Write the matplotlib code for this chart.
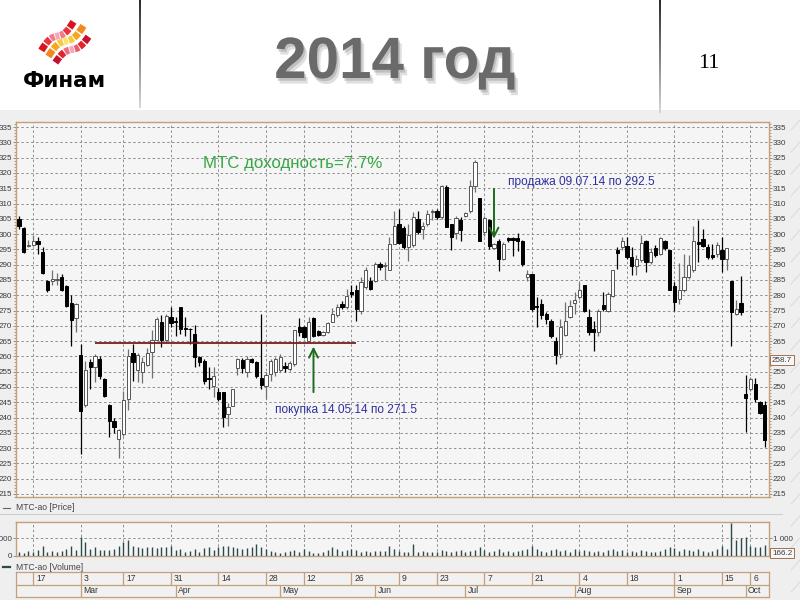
import matplotlib
matplotlib.use("Agg")
import matplotlib.pyplot as plt
import numpy as np
import matplotlib.patheffects as pe
from matplotlib.patches import Rectangle
from matplotlib.collections import LineCollection
from matplotlib.ticker import MultipleLocator

plt.rcParams['font.family'] = ['Liberation Sans', 'DejaVu Sans']

# ---------------- data (MTS daily candles, Feb-Oct 2014) ----------------
opens = [305, 302, 296, 296.3, 297.8, 294.2, 284.8, 284.6, 284.9, 285.9,
         282.9, 277.5, 272.5, 260.5, 244, 258.1, 256.5, 259, 252.6, 244.1,
         239, 233, 234.6, 246, 261.2, 255.4, 255, 257.2, 261.4, 265.5,
         271.2, 265.2, 273, 271.5, 276, 269.3, 269.1, 267.4, 259.7, 258.6,
         253, 250.2, 248.3, 248.3, 241.3, 243.8, 256.1, 258.9, 255, 259,
         258.3, 252.9, 250.2, 254.3, 254.8, 255.4, 257, 255.9, 257.6, 269.5,
         269.5, 264.9, 272.5, 268.2, 267, 268.1, 271.4, 273.4, 277.2, 276.1,
         281, 281.6, 275, 282.7, 284.6, 284.6, 290.1, 289.4, 288.3, 296.8,
         303.4, 302, 295.7, 296.3, 305, 301.7, 303.4, 307.2, 307.7, 305.6,
         315.4, 303.2, 300.3, 304.7, 305.8, 307.7, 315.6, 311.9, 300.6, 304.7,
         295.5, 297.7, 291.9, 298.7, 298.8, 298.8, 297.9, 285.9, 287, 276.6,
         277.2, 273.9, 271.7, 264.9, 260.8, 267, 272.8, 277.4, 279.4, 283.5,
         272.8, 269, 268.1, 276.7, 275, 279.9, 294.7, 295.7, 296, 292.5,
         289.7, 291.6, 297.9, 290.8, 295.5, 293.4, 297.7, 294.7, 282.9, 278.8,
         281.6, 286, 288.1, 297.4, 298.5, 295.7, 293, 293.4, 294.9, 291.9,
         284.8, 273.9, 277.5, 247.7, 249.2, 251, 245, 244.1]
highs = [305.8, 302.3, 298.2, 299.8, 299, 295.7, 285, 288.3, 287.3, 287,
         283.3, 280, 277.5, 264, 258.6, 259.2, 260.8, 260, 253, 244.3,
         240, 236.2, 248.8, 262.5, 264.2, 261.2, 259.7, 262.7, 268.5, 272.8,
         273.4, 273.9, 276, 272.8, 276.1, 272.8, 269.4, 270.1, 260.2, 259.1,
         256.5, 256.5, 249.6, 248.3, 244.6, 249.3, 259.4, 259.4, 260.1, 259.4,
         258.6, 273.9, 254.9, 259.2, 259.8, 260.8, 258, 258.5, 268.6, 272.5,
         270, 272.8, 272.8, 268.5, 268.3, 271.4, 275.8, 277, 278, 282.1,
         283.2, 283.2, 286, 289.2, 286.1, 290.9, 290.9, 290.9, 299.2, 307.7,
         308.3, 302.8, 303.4, 307.2, 307.7, 303.9, 307.9, 308.3, 308.3, 315.9,
         315.9, 303.2, 305.8, 305.6, 307.2, 317.6, 324.1, 311.9, 305.8, 305,
         297, 298.5, 297.4, 299.2, 299.2, 300.3, 298.1, 288.1, 287, 279.4,
         278.8, 274.5, 272.3, 266.3, 272.3, 277.7, 278.3, 281, 284.3, 283.5,
         275.5, 271.7, 275.5, 281, 281, 288.3, 295.7, 299, 299, 295.7,
         293, 299.6, 298.1, 295.5, 296.3, 299, 298.1, 294.7, 284.3, 290.5,
         293.6, 293, 302.8, 304.5, 301.7, 296.8, 296.8, 297.4, 299, 295.5,
         284.8, 278.3, 286.3, 254, 253.1, 252.8, 245.5, 245.5]
lows = [301.5, 293.8, 295.8, 296, 293.5, 287, 281, 283.5, 283.5, 281.3,
        276.3, 263.5, 268, 228, 243.5, 249.4, 251.6, 252.6, 246.8, 233.6,
        235, 226.7, 234, 242.3, 252, 251.7, 251.3, 256.7, 252.9, 265.2,
        263, 264.7, 269.6, 266.8, 267.4, 266.8, 263.9, 256.5, 257, 251,
        249.4, 246.6, 245.5, 236.8, 237.3, 243.7, 253.8, 254.6, 253.3, 257.9,
        253, 249.4, 246, 252, 253.5, 254.8, 255, 255.2, 257, 266.8,
        266, 264.9, 266.3, 266.5, 266.7, 267.7, 271.2, 273, 275.5, 275.5,
        279.4, 271.7, 274, 282.1, 281.6, 284.3, 288.1, 284.9, 288.1, 296.8,
        296.8, 295.1, 291.3, 295.7, 300, 298.5, 302.8, 304.5, 305, 305,
        302.3, 294.9, 298.5, 297.9, 305.5, 306.9, 313.8, 297.9, 299.5, 295.1,
        295.3, 288, 291.6, 297.4, 292.8, 294.4, 289.7, 284.8, 275, 269.5,
        272.3, 270.6, 266, 257.6, 259.4, 266.8, 272.5, 274, 278.8, 274.5,
        267, 261.9, 266.8, 274.8, 274.5, 279.4, 288.7, 294.7, 292, 286.5,
        286.5, 290.8, 287.5, 290.3, 292.5, 293.1, 294.7, 281.6, 275, 277.1,
        281, 285.4, 287.6, 290.8, 295.7, 292, 292, 292.5, 287.5, 288.3,
        263.5, 273.4, 273.4, 235.2, 248.8, 245, 241, 230.3]
closes = [302.5, 294, 296.4, 297.9, 296.6, 287.2, 281.6, 285.4, 285.3, 281.6,
          276.6, 272, 277, 242, 255.4, 256.5, 260, 253.5, 247.2, 238.7,
          236.8, 236, 245.6, 260, 258.1, 260.3, 258.3, 261.2, 265.2, 272.3,
          265.5, 273.1, 271, 271.2, 269, 268.8, 268.8, 259.7, 258.1, 252.1,
          252.5, 253.7, 246.1, 240.1, 243.5, 249.2, 259.2, 256.1, 259, 258.1,
          253.5, 250.5, 254, 258.6, 259.2, 259.7, 256.1, 257.8, 268.5, 267.9,
          266.3, 271.2, 266.6, 267, 267.9, 271, 273.9, 276.1, 276.1, 279.9,
          280.5, 275.5, 284.3, 288.1, 282.1, 290.1, 289.2, 290, 296.8, 302.8,
          297.2, 295.9, 299.6, 305.6, 300.6, 302.8, 306.6, 307.7, 305.6, 315.6,
          302.3, 299.2, 305.3, 301.4, 306.9, 315.6, 323.5, 297.9, 305.3, 296,
          296.8, 291.9, 296.8, 298.1, 298.1, 297.9, 290.3, 286.8, 275.5, 276.3,
          273.4, 272.3, 266.8, 260.5, 269.5, 271.7, 276.4, 278.5, 281.8, 275,
          267.9, 268.1, 275, 275.6, 280.5, 288.1, 293.8, 297.7, 292.5, 289.7,
          291.9, 297.1, 290.8, 294.1, 293, 298.8, 295.5, 281.6, 277.8, 281.8,
          286, 290, 297.9, 296.6, 296, 292.5, 292.5, 296.3, 291.9, 295.5,
          274.5, 275.5, 274.5, 246.3, 252.6, 245.9, 241.5, 232.5]
volumes = [230, 190, 290, 230, 350, 540, 230, 290, 230, 290,
           380, 540, 350, 1060, 770, 380, 480, 350, 350, 350,
           380, 540, 770, 870, 540, 480, 420, 480, 480, 420,
           480, 480, 540, 350, 380, 230, 290, 380, 230, 420,
           480, 350, 480, 580, 540, 480, 420, 380, 420, 480,
           670, 480, 380, 290, 230, 190, 230, 290, 350, 230,
           380, 290, 190, 150, 230, 350, 480, 380, 290, 350,
           380, 350, 230, 290, 230, 290, 290, 290, 540, 380,
           300, 250, 250, 650, 250, 300, 250, 200, 250, 350,
           300, 250, 300, 350, 200, 300, 350, 500, 350, 250,
           300, 400, 250, 300, 250, 300, 350, 400, 550, 400,
           300, 250, 350, 400, 300, 350, 250, 400, 300, 350,
           300, 250, 300, 250, 350, 400, 300, 350, 250, 300,
           250, 350, 300, 200, 250, 300, 400, 500, 450, 300,
           400, 350, 300, 400, 300, 250, 300, 400, 550, 400,
           1830, 900, 1000, 1050, 550, 500, 500, 600]

day_ticks = [3, 13, 22, 32, 42, 52, 60, 70, 80, 88, 98, 108, 118, 128, 138, 148, 154]
day_labels = ["17", "3", "17", "31", "14", "28", "12", "26", "9", "23", "7", "21",
              "4", "18", "1", "15", "6"]
month_ticks = [13, 33, 55, 75, 94, 117, 138, 153]
month_labels = ["Mar", "Apr", "May", "Jun", "Jul", "Aug", "Sep", "Oct"]

buy_idx, buy_price = 62, 271.5
sell_idx, sell_price = 100, 292.5
support_level, support_from, support_to = 264.3, 16, 71
last_price = 258.7
last_volume = 166.2
title_text = "2014 год"
yield_text = "МТС доходность=7.7%"
sell_text = "продажа 09.07.14 по 292.5"
buy_text = "покупка 14.05.14 по 271.5"

# ---------------- figure ----------------
fig = plt.figure(figsize=(8, 6), dpi=100)
fig.patch.set_facecolor('white')


def fx(x):
    return x / 800.0


def fy(y):
    return 1 - y / 600.0


bg = fig.add_axes([0, 0, 1, 1], zorder=0)
bg.set_xlim(0, 800)
bg.set_ylim(600, 0)
bg.axis('off')

# screenshot background
bg.add_patch(Rectangle((0, 110), 800, 490, fc='#efefef', ec='none'))
for y0 in range(120, 600, 22):
    bg.plot([791, 800], [y0 + 10, y0], color='#dadada', lw=0.7)

# header separator lines (fading)
for xline, ybot in ((140, 108), (660, 113)):
    ys = np.linspace(0, ybot, 40)
    segs = [[(xline, ys[k]), (xline, ys[k + 1])] for k in range(39)]
    cols = [plt.cm.gray(0.15 + 0.7 * k / 39) for k in range(39)]
    bg.add_collection(LineCollection(segs, colors=cols, lw=1.4))

# Finam logo
strands = [((41, 51), (74, 21), ['#d9141c', '#e8383d', '#f27a8a', '#f7a6b5', '#f27a8a', '#e8383d', '#d9141c']),
           ((48, 57), (84, 25), ['#f08a1d', '#f5a623', '#fbc93c', '#fde26a', '#fbc93c', '#f5a623', '#f08a1d']),
           ((55, 63), (89, 36), ['#c8102e', '#e0262c', '#f06b7d', '#f7a6b5', '#ef5a6a', '#e0262c', '#c8102e'])]
for (x0, y0), (x1, y1), cols in strands:
    n = len(cols)
    for k, col in enumerate(cols):
        t = np.linspace(k / n + 0.01, (k + 1) / n - 0.015, 6)
        xs = x0 + (x1 - x0) * t
        ys = y0 + (y1 - y0) * (t + 0.12 * np.sin(2 * np.pi * t))
        bg.plot(xs, ys, color=col, lw=5.0, solid_capstyle='butt')
bg.text(23, 87, 'Финам', fontsize=15.5, fontweight='bold', family=['DejaVu Sans'],
        ha='left', va='baseline', color='black')

# title and page number
bg.text(395, 78, title_text, ha='center', va='baseline', fontsize=42, fontweight='bold',
        color='#6a6a6a', family=['Liberation Sans', 'DejaVu Sans'],
        path_effects=[pe.SimplePatchShadow(offset=(2.5, -4), shadow_rgbFace='#c0c0c0', alpha=0.5),
                      pe.SimplePatchShadow(offset=(1.2, -2), shadow_rgbFace='#a0a0a0', alpha=0.5),
                      pe.Normal()])
bg.text(709, 68, '11', ha='center', va='baseline', fontsize=16,
        family=['Liberation Serif', 'DejaVu Serif'], color='black')

TAN = '#c2a07a'
GRID = dict(ls=(0, (2.5, 2.5)), color='#8e8e8e', lw=0.7)
XLIM = (-0.63, 157.9)
LBL = 5.8
idx = np.arange(len(opens))
o = np.array(opens)
c = np.array(closes)
up = c >= o

# ---------------- price panel ----------------
pax = fig.add_axes([fx(16), fy(497), fx(769) - fx(16), fy(122.5) - fy(497)], zorder=2)
pax.set_facecolor('#f5f5f5')
pax.vlines(idx, lows, highs, colors=np.where(up, '#707070', 'black'), lw=0.9, zorder=3)
pax.bar(idx, np.maximum(np.abs(c - o), 0.3), bottom=np.minimum(o, c), width=0.7,
        color=np.where(up, 'white', 'black'), edgecolor=np.where(up, '#555555', 'black'),
        linewidth=0.7, zorder=4)
pax.set_xlim(*XLIM)
pax.set_ylim(214, 336.5)
pax.set_xticks(day_ticks)
pax.set_yticks(np.arange(215, 336, 5))
pax.yaxis.set_minor_locator(MultipleLocator(1))
pax.grid(True, which='major', **GRID)
pax.tick_params(axis='x', length=0, labelbottom=False)
pax.tick_params(axis='y', which='major', left=True, right=True, labelleft=True, labelright=True,
                length=2, width=0.6, color='#a07a55', pad=0.8, labelsize=LBL, labelcolor='#3a3a3a')
pax.tick_params(axis='y', which='minor', left=True, right=True, length=1.2, width=0.5, color='#a07a55')
for s in pax.spines.values():
    s.set_color(TAN)
    s.set_linewidth(1)
fig.canvas.draw()
for tick in pax.yaxis.get_major_ticks():
    if abs(tick.get_loc() - 260) < 0.1:
        tick.label2.set_visible(False)

pax.hlines(support_level, support_from, support_to, color='#7a1c1c', lw=1.3, zorder=5)
pax.annotate('', xy=(buy_idx, 263.2), xytext=(buy_idx, 248.3),
             arrowprops=dict(arrowstyle='->', color='#1d6b1d', lw=1.4, mutation_scale=16,
                             shrinkA=0, shrinkB=0), zorder=6)
pax.annotate('', xy=(sell_idx, 298.5), xytext=(sell_idx, 314.8),
             arrowprops=dict(arrowstyle='->', color='#1d6b1d', lw=1.4, mutation_scale=16,
                             shrinkA=0, shrinkB=0), zorder=6)
pax.text(38.7, 323.2, yield_text, color='#38a846', fontsize=12.2, va='center', ha='left', zorder=7)
pax.text(102.9, 317.0, sell_text, color='#2e2e9e', fontsize=8.6, va='center', ha='left', zorder=7)
pax.text(53.9, 242.5, buy_text, color='#2e2e9e', fontsize=8.6, va='center', ha='left', zorder=7)
pax.annotate(f'{last_price}', xy=(1, last_price), xycoords=('axes fraction', 'data'),
             xytext=(2.2, 0), textcoords='offset points', va='center', ha='left', fontsize=LBL,
             color='#3a3a3a', annotation_clip=False, zorder=10,
             bbox=dict(boxstyle='square,pad=0.2', fc='#f7f7f7', ec='#a0704a', lw=0.7))

# ---------------- volume panel ----------------
vax = fig.add_axes([fx(16), fy(556), fx(769) - fx(16), fy(522) - fy(556)], zorder=2)
vax.set_facecolor('#f5f5f5')
vax.vlines(idx, 0, volumes, color='#2b4a4a', lw=1.0, zorder=3)
vax.set_xlim(*XLIM)
vax.set_ylim(0, 1890)
vax.set_xticks(day_ticks)
vax.set_yticks([0, 1000])
vax.set_yticklabels(['0', '1 000'])
vax.grid(True, **GRID)
vax.tick_params(axis='x', length=0, labelbottom=False)
vax.tick_params(axis='y', left=True, right=True, labelleft=True, labelright=True, length=2,
                width=0.6, color='#a07a55', pad=0.8, labelsize=LBL, labelcolor='#3a3a3a')
for s in vax.spines.values():
    s.set_color(TAN)
    s.set_linewidth(1)
vt = vax.yaxis.get_major_ticks()
vt[0].label2.set_visible(False)
vax.annotate(f'{last_volume}', xy=(1, last_volume), xycoords=('axes fraction', 'data'),
             xytext=(2.2, 0), textcoords='offset points', va='center', ha='left', fontsize=LBL,
             color='#3a3a3a', annotation_clip=False, zorder=10,
             bbox=dict(boxstyle='square,pad=0.2', fc='#f7f7f7', ec='#a0704a', lw=0.7))

# ---------------- date axis ----------------
dax = fig.add_axes([fx(16), fy(597), fx(769) - fx(16), fy(572) - fy(597)], zorder=2)
dax.set_facecolor('#f1f1f1')
dax.set_xlim(*XLIM)
dax.set_ylim(0, 1)
dax.set_xticks([])
dax.set_yticks([])
for s in dax.spines.values():
    s.set_color(TAN)
    s.set_linewidth(0.9)
dax.axhline(0.5, color=TAN, lw=0.9)
dax.vlines(day_ticks, 0.5, 1, color=TAN, lw=0.9)
dax.vlines(month_ticks, 0, 0.5, color=TAN, lw=0.9)
for t, lab in zip(day_ticks, day_labels):
    dax.text(t + 0.6, 0.75, lab, va='center', ha='left', fontsize=6.2, color='#333333')
for t, lab in zip(month_ticks, month_labels):
    dax.text(t + 0.5, 0.25, lab, va='center', ha='left', fontsize=6.2, color='#333333')

# panel captions and separator
bg.plot([0, 782], [514, 514], color='#cfcfcf', lw=0.8)
bg.plot([3, 10], [508, 508], color='#666666', lw=0.8)
bg.text(16, 508, 'МТС-ао [Price]', va='center', ha='left', fontsize=6.2, color='#444444')
bg.plot([3, 10], [567, 567], color='#2b4a4a', lw=1.6)
bg.text(16, 567, 'МТС-ао [Volume]', va='center', ha='left', fontsize=6.2, color='#444444')

fig.savefig('out.png', dpi=100)
